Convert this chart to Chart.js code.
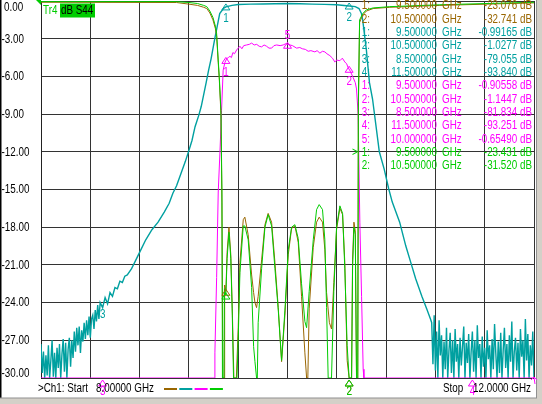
<!DOCTYPE html>
<html>
<head>
<meta charset="utf-8">
<script src="https://cdn.jsdelivr.net/npm/chart.js@4.4.1/dist/chart.umd.min.js"></script>
<style>
  html, body { margin: 0; padding: 0; background: #ffffff; overflow: hidden; }
  canvas { display: block; }
</style>
</head>
<body>
<canvas id="vna" width="542" height="404"></canvas>
<script>
const freqStart = 8;
const freqStop = 12;
const freqGridStep = 0.4;
const dbTicks = [0, -3, -6, -9, -12, -15, -18, -21, -24, -27, -30];
const sweepStep = 0.01;

// Tr2 (teal): noisy skirts are sampled on the sweep grid, the rest point by point
const tealNoiseLowStart = 8.0;
const tealNoiseLow = [
  -27.3, -29.6, -27.9, -30, -28.2, -29.8, -27.4, -30, -28.6, -27.0,
  -29.9, -28.0, -30, -27.6, -29.2, -27.3, -30, -28.1, -26.9, -29.5,
  -27.2, -30, -27.7, -26.8, -29.1, -27.0, -28.4, -26.3, -27.9, -26.0,
  -27.4, -25.9, -28.0, -26.2, -27.1, -25.6, -26.9, -25.4, -26.6, -25.1,
  -26.8, -25.3, -25.0, -26.1, -24.6, -25.5, -24.2, -25.3, -24.0
];
const tealFreq = [
  8.50, 8.52, 8.54, 8.56, 8.58, 8.60, 8.62, 8.64, 8.66, 8.68,
  8.70, 8.735, 8.77, 8.80, 8.85, 8.90, 8.95, 9.00, 9.04, 9.07,
  9.10, 9.14, 9.17, 9.20, 9.225, 9.25, 9.28, 9.30, 9.34, 9.36,
  9.38, 9.41, 9.43, 9.45, 9.48, 9.50, 9.55, 9.60, 9.70, 9.80,
  9.90, 10.00, 10.10, 10.20, 10.30, 10.40, 10.50, 10.55, 10.58, 10.60,
  10.61, 10.64, 10.665, 10.69, 10.745, 10.785, 10.82, 10.85, 10.91, 10.96,
  11.00, 11.04, 11.09, 11.13, 11.16
];
const tealDb = [
  -24.4, -23.6, -24.1, -23.2, -23.5, -22.8, -22.9, -22.3, -22.4, -21.9,
  -21.8, -21.3, -20.6, -20.0, -19.0, -18.2, -17.6, -16.8, -16.1, -15.3,
  -14.7, -13.6, -12.8, -11.9, -11.1, -10.0, -9.1, -8.4, -6.5, -5.5,
  -4.6, -3.0, -2.0, -1.0, -0.6, -0.47, -0.35, -0.28, -0.25, -0.24,
  -0.22, -0.2, -0.22, -0.25, -0.27, -0.3, -0.4, -0.45, -0.6, -1.0,
  -1.5, -3.9, -6.5, -7.8, -12.0, -13.4, -14.9, -16.0, -17.6, -19.5,
  -20.8, -22.1, -23.5, -24.5, -25.3
];
const tealNoiseHighStart = 11.17;
const tealNoiseHigh = [
  -25.6, -28.9, -25.0, -29.4, -26.3, -30, -25.4, -28.2, -26.6, -30,
  -27.1, -29.3, -26.0, -30, -27.8, -26.4, -29.6, -27.0, -30, -26.1,
  -28.7, -27.3, -30, -26.8, -29.0, -27.5, -25.9, -30, -27.2, -28.8,
  -26.5, -30, -27.9, -26.3, -29.5, -27.0, -30, -25.8, -28.4, -27.3,
  -30, -26.7, -29.1, -27.6, -30, -26.2, -28.5, -27.4, -30, -26.9,
  -29.3, -25.7, -28.0, -30, -27.1, -29.6, -26.4, -30, -27.8, -26.0,
  -29.2, -27.3, -30, -26.6, -28.7, -25.5, -30, -27.9, -26.8, -29.4,
  -27.2, -30, -26.1, -28.3, -27.0, -30, -25.3, -28.6, -26.5, -30,
  -27.4, -29.0, -26.3, -30
];

// Tr3 (magenta)
const magentaFreq = [
  8.00, 9.405, 9.411, 9.425, 9.438, 9.452, 9.465, 9.478, 9.492, 9.506,
  9.52, 9.533, 9.545, 9.557, 9.57, 9.587, 9.60, 9.614, 9.63, 9.645,
  9.668, 9.69, 9.709, 9.73, 9.75, 9.77, 9.79, 9.81, 9.83, 9.85,
  9.871, 9.89, 9.912, 9.94, 9.965, 9.985, 10.003, 10.02, 10.04, 10.074,
  10.10, 10.12, 10.145, 10.168, 10.19, 10.222, 10.24, 10.263, 10.283, 10.303,
  10.32, 10.344, 10.365, 10.384, 10.40, 10.425, 10.445, 10.465, 10.48, 10.492,
  10.51, 10.533, 10.55, 10.56, 10.573, 10.587, 10.601, 10.614, 10.62, 12.00
];
const magentaDb = [
  -30, -30, -28, -22, -15.2, -12, -8.7, -5.5, -4.9, -4.6,
  -4.5, -4.4, -4.5, -4.1, -4.2, -3.9, -3.75, -3.6, -3.8, -3.55,
  -3.5, -3.45, -3.35, -3.5, -3.45, -3.6, -3.65, -3.5, -3.6, -3.75,
  -3.75, -3.55, -3.5, -3.55, -3.5, -3.4, -3.45, -3.5, -3.55, -3.75,
  -3.7, -3.8, -3.85, -4.0, -3.95, -4.05, -3.95, -4.15, -4.0, -4.05,
  -4.2, -4.35, -4.55, -4.85, -4.7, -4.75, -4.55, -4.85, -5.0, -5.3,
  -5.6, -6.1, -6.5, -7.0, -9.0, -17.6, -23.5, -29.3, -30, -30
];

// Tr4 (green, S44)
const greenFreq = [
  8.00, 9.10, 9.20, 9.27, 9.32, 9.345, 9.37, 9.395, 9.415, 9.425,
  9.438, 9.447, 9.46, 9.468, 9.472, 9.484, 9.488, 9.50, 9.51, 9.525,
  9.54, 9.552, 9.562, 9.59, 9.60, 9.614, 9.641, 9.654, 9.681, 9.709,
  9.725, 9.736, 9.749, 9.755, 9.762, 9.790, 9.817, 9.843, 9.871, 9.898,
  9.925, 9.952, 9.979, 10.006, 10.033, 10.06, 10.087, 10.114, 10.141, 10.155,
  10.176, 10.209, 10.236, 10.257, 10.284, 10.303, 10.317, 10.33, 10.357, 10.376,
  10.398, 10.425, 10.447, 10.465, 10.484, 10.50, 10.52, 10.528, 10.539, 10.55,
  10.56, 10.57, 10.575, 10.585, 10.611, 10.64, 10.695, 10.83, 11.236, 12.00
];
const greenDb = [
  -0.05, -0.05, -0.12, -0.2, -0.35, -0.45, -0.8, -1.3, -2.0, -2.6,
  -4.7, -6.1, -8.7, -15, -30, -30, -22.9, -23.4, -20.5, -18.4,
  -20.5, -25, -30, -30, -27, -21.6, -17.9, -17.9, -19.0, -22.8,
  -27.5, -28.7, -30, -30, -25.6, -21.3, -18.0, -17.0, -17.9, -21.3,
  -24.6, -28.6, -24.6, -19.8, -18.0, -17.8, -18.9, -22.5, -25.5, -26.0,
  -23.1, -19.0, -16.6, -16.2, -16.6, -19.0, -24.4, -30, -30, -23.1,
  -18.0, -16.3, -16.9, -21.3, -27.4, -30, -30, -21.3, -18.0, -18.6,
  -30, -30, -8.0, -1.5, -1.0, -0.7, -0.55, -0.45, -0.3, -0.1
];

// Tr1 (brown)
const brownFreq = [
  8.00, 9.10, 9.20, 9.27, 9.32, 9.345, 9.37, 9.395, 9.415, 9.425,
  9.438, 9.447, 9.46, 9.468, 9.475, 9.486, 9.49, 9.50, 9.51, 9.525,
  9.54, 9.552, 9.565, 9.585, 9.60, 9.614, 9.641, 9.654, 9.681, 9.709,
  9.725, 9.736, 9.749, 9.762, 9.790, 9.817, 9.843, 9.871, 9.898, 9.925,
  9.952, 9.979, 10.006, 10.033, 10.06, 10.087, 10.114, 10.141, 10.155, 10.165,
  10.176, 10.209, 10.236, 10.257, 10.284, 10.303, 10.317, 10.34, 10.357, 10.376,
  10.398, 10.425, 10.447, 10.465, 10.484, 10.50, 10.52, 10.528, 10.539, 10.55,
  10.56, 10.57, 10.575, 10.585, 10.611, 10.64, 10.695, 10.83, 11.236, 12.00
];
const brownDb = [
  -0.1, -0.12, -0.25, -0.35, -0.5, -0.6, -0.95, -1.5, -2.2, -2.8,
  -4.9, -6.3, -9.0, -16, -30, -30, -22.6, -23.1, -20.0, -18.0,
  -20.2, -24.5, -30, -30, -26, -20.8, -17.4, -17.2, -18.6, -21.8,
  -23.2, -24.0, -24.4, -23.5, -20.6, -17.8, -16.9, -17.6, -20.8, -24.4,
  -28.7, -25.0, -20.2, -18.1, -17.9, -19.2, -23.5, -28.0, -30, -30,
  -24.5, -19.6, -17.6, -17.2, -17.6, -19.8, -23.2, -25.6, -26.1, -22.4,
  -18.2, -16.5, -17.0, -20.8, -28.6, -30, -30, -20.6, -17.6, -18.3,
  -30, -30, -8.5, -1.7, -1.1, -0.8, -0.6, -0.5, -0.35, -0.15
];

// marker readouts
const brownMarkerFreq = [9.5, 10.5];
const brownMarkerDb = ['-23.076', '-32.741'];
const tealMarkerFreq = [9.5, 10.5, 8.5, 11.5];
const tealMarkerDb = ['-0.99165', '-1.0277', '-79.055', '-93.840'];
const magentaMarkerFreq = [9.5, 10.5, 8.5, 11.5, 10.0];
const magentaMarkerDb = ['-0.90558', '-1.1447', '-81.834', '-93.251', '-0.65490'];
const greenMarkerFreq = [9.5, 10.5];
const greenMarkerDb = ['-23.431', '-31.520'];

const COLORS = {
  brown: '#996600', teal: '#00a0a0', magenta: '#ff00ff', green: '#00cc00', grid: '#333333'
};
// the analyser font is narrow; squeeze Liberation Sans to its width
const FONT = '12px "Liberation Sans", Arial, sans-serif';
const TEXT_SQUEEZE = 0.82;

const toPoints = (freqs, values) => freqs.map((x, i) => ({ x, y: values[i] }));
const sweepPoints = (start, values) => values.map((y, i) => ({ x: +(start + i * sweepStep).toFixed(3), y }));

const tealPoints = [
  ...sweepPoints(tealNoiseLowStart, tealNoiseLow),
  ...toPoints(tealFreq, tealDb),
  ...sweepPoints(tealNoiseHighStart, tealNoiseHigh)
];
const magentaPoints = toPoints(magentaFreq, magentaDb);
const greenPoints = toPoints(greenFreq, greenDb);
const brownPoints = toPoints(brownFreq, brownDb);

const traces = [
  { key: 'brown', points: brownPoints, freqs: brownMarkerFreq, readouts: brownMarkerDb,
    show: ['plain', 'axis'] },
  { key: 'teal', points: tealPoints, freqs: tealMarkerFreq, readouts: tealMarkerDb,
    show: ['below', 'below', 'label', 'none'] },
  { key: 'magenta', points: magentaPoints, freqs: magentaMarkerFreq, readouts: magentaMarkerDb,
    show: ['below', 'below', 'axis', 'axis', 'above'] },
  { key: 'green', points: greenPoints, freqs: greenMarkerFreq, readouts: greenMarkerDb,
    show: ['plain', 'axis'] }
];

const valueAt = (points, f) => {
  for (let i = 1; i < points.length; i++) {
    if (points[i].x >= f) {
      const a = points[i - 1];
      const b = points[i];
      return a.y + (b.y - a.y) * ((f - a.x) / (b.x - a.x || 1));
    }
  }
  return points[points.length - 1].y;
};

const triangle = (ctx, x, y, color) => {
  ctx.beginPath();
  ctx.moveTo(x, y);
  ctx.lineTo(x - 4, y + 6);
  ctx.lineTo(x + 4, y + 6);
  ctx.closePath();
  ctx.strokeStyle = color;
  ctx.lineWidth = 1;
  ctx.stroke();
};

const text = (ctx, str, x, y, color, align = 'left') => {
  ctx.save();
  ctx.translate(x, y);
  ctx.scale(TEXT_SQUEEZE, 1);
  ctx.fillStyle = color;
  ctx.textAlign = align;
  ctx.fillText(str, 0, 0);
  ctx.restore();
};

const vnaScreen = {
  id: 'vnaScreen',
  afterDraw(chart) {
    const { ctx, chartArea, scales } = chart;
    const { x: xs, y: ys } = scales;

    ctx.save();
    ctx.font = FONT;
    ctx.textBaseline = 'middle';

    // window frame
    ctx.fillStyle = '#000000';
    ctx.fillRect(0, 0, 1.5, 398);
    ctx.fillStyle = '#d4d0c8';
    ctx.fillRect(536, 0, 6, 404);
    ctx.fillRect(0, 398, 542, 6);
    ctx.fillStyle = '#909090';
    ctx.fillRect(536, 0, 1, 398);
    ctx.fillRect(0, 397.5, 537, 1);

    // y tick labels
    dbTicks.forEach((v) => {
      const y = Math.min(Math.max(ys.getPixelForValue(v) + 0.5, 7.5), 374);
      text(ctx, v.toFixed(2), v === 0 ? 4 : 1.5, y, '#000000');
    });

    // trace label
    text(ctx, 'Tr4', 43, 11, COLORS.green);
    ctx.fillStyle = COLORS.green;
    ctx.fillRect(60, 3.5, 35, 14);
    text(ctx, 'dB S44', 61, 11, '#000000');
    ctx.fillStyle = COLORS.green;
    ctx.beginPath();
    ctx.moveTo(36, 0);
    ctx.lineTo(41, 0);
    ctx.lineTo(41, 5);
    ctx.closePath();
    ctx.fill();

    // marker table
    let row = 0;
    traces.forEach(({ key, freqs, readouts }) => {
      freqs.forEach((f, i) => {
        const y = 6 + row * 13.33;
        const color = COLORS[key];
        if (key === 'green' && i === 0) {
          text(ctx, '>', 352, y, color);
        }
        text(ctx, `${i + 1}:`, 370, y, color, 'right');
        text(ctx, f.toFixed(6), 437, y, color, 'right');
        text(ctx, 'GHz', 442, y, color);
        text(ctx, `${readouts[i]} dB`, 532, y, color, 'right');
        row += 1;
      });
    });

    // markers on the traces
    traces.forEach(({ key, points, freqs, show }) => {
      const color = COLORS[key];
      freqs.forEach((f, i) => {
        const mode = show[i];
        const px = xs.getPixelForValue(f);
        const py = ys.getPixelForValue(valueAt(points, f));
        const label = `${i + 1}`;
        if (mode === 'below') {
          triangle(ctx, px, py - 3, color);
          text(ctx, label, px, py + 12, color, 'center');
        } else if (mode === 'above') {
          triangle(ctx, px, py - 2, color);
          text(ctx, label, px, py - 9, color, 'center');
        } else if (mode === 'plain') {
          triangle(ctx, px, py - 2, color);
        } else if (mode === 'label') {
          text(ctx, label, px, py + 7, color, 'center');
        } else if (mode === 'axis') {
          triangle(ctx, px, chartArea.bottom + 2, color);
          text(ctx, label, px, chartArea.bottom + 14, color, 'center');
        }
      });
    });

    // end-of-sweep arrow
    ctx.strokeStyle = COLORS.magenta;
    ctx.beginPath();
    ctx.moveTo(chartArea.right, chartArea.bottom - 1);
    ctx.lineTo(chartArea.right + 1, chartArea.bottom + 6);
    ctx.moveTo(chartArea.right - 3, chartArea.bottom + 2);
    ctx.lineTo(chartArea.right, chartArea.bottom - 1);
    ctx.lineTo(chartArea.right + 3, chartArea.bottom + 2);
    ctx.stroke();

    // status line
    text(ctx, '>Ch1: Start', 38, 389, '#000000');
    text(ctx, `${freqStart.toFixed(5)} GHz`, 96, 389, '#000000');
    ['brown', 'teal', 'magenta', 'green'].forEach((key, i) => {
      ctx.fillStyle = COLORS[key];
      ctx.fillRect(164 + i * 15.3, 388, 13, 2);
    });
    text(ctx, 'Stop', 443, 389, '#000000');
    text(ctx, `${freqStop.toFixed(4)} GHz`, 531, 389, '#000000', 'right');

    ctx.restore();
  }
};

const makeDataset = (key, points, order, width = 1) => ({
  data: points,
  borderColor: COLORS[key],
  borderWidth: width,
  pointRadius: 0,
  tension: 0,
  fill: false,
  order
});

new Chart(document.getElementById('vna'), {
  type: 'line',
  data: {
    datasets: [
      makeDataset('green', greenPoints, 0),
      makeDataset('brown', brownPoints, 1),
      makeDataset('magenta', magentaPoints, 2),
      makeDataset('teal', tealPoints, 3, 1.4)
    ]
  },
  options: {
    responsive: false,
    devicePixelRatio: 1,
    animation: false,
    events: [],
    layout: { padding: { left: 41, right: 8, top: 1, bottom: 26 } },
    plugins: { legend: { display: false }, tooltip: { enabled: false } },
    scales: {
      x: {
        type: 'linear',
        min: freqStart,
        max: freqStop,
        ticks: { display: false, stepSize: freqGridStep },
        grid: { color: COLORS.grid, lineWidth: 1, drawTicks: false },
        border: { display: false }
      },
      y: {
        min: -30,
        max: 0,
        ticks: { display: false, stepSize: 3 },
        grid: { color: COLORS.grid, lineWidth: 1, drawTicks: false },
        border: { display: true, color: '#222222' }
      }
    }
  },
  plugins: [vnaScreen]
});
</script>
</body>
</html>
